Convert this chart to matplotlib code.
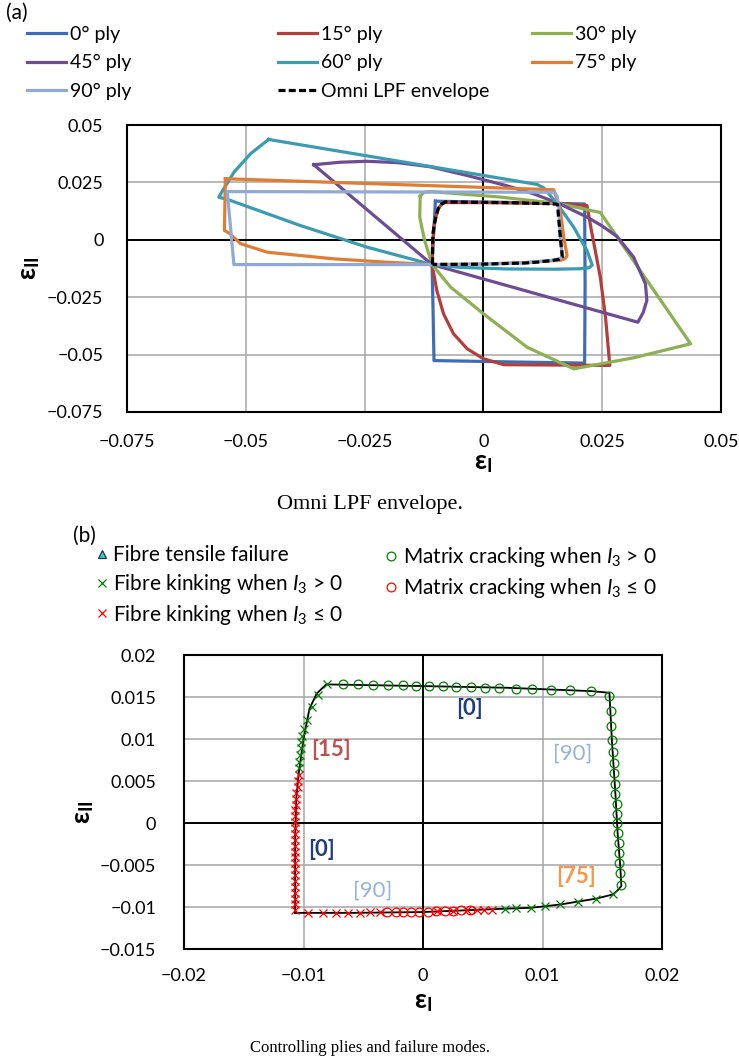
import matplotlib
matplotlib.use('Agg')
import matplotlib.pyplot as plt
from matplotlib.lines import Line2D

plt.rcParams['font.family'] = ['Lato', 'DejaVu Sans']
plt.rcParams['mathtext.fontset'] = 'custom'
plt.rcParams['mathtext.rm'] = 'Lato'
plt.rcParams['mathtext.it'] = 'Lato:italic'
plt.rcParams['mathtext.bf'] = 'Lato:bold'

# ---------------- data: panel (a) ----------------
ply_names = ['0° ply', '15° ply', '30° ply', '45° ply', '60° ply', '75° ply', '90° ply']
ply_colors = ['#3E6DB5', '#B33F3C', '#8CB052', '#6E4C94', '#3A9BB2', '#E07D32', '#8FAAD6']

x0 = [-0.0101, 0.0050, 0.0213, 0.0214, 0.0213, 0.0060, -0.0104, -0.0106, -0.0108, -0.0104, -0.0101]
y0 = [0.0168, 0.0163, 0.0156, -0.0200, -0.0537, -0.0532, -0.0526, -0.0300, -0.0108, 0.0050, 0.0168]

x15 = [-0.0108, -0.0107, -0.0104, -0.0100, -0.0095, -0.0088, -0.0080, 0.0000, 0.0080, 0.0158, 0.0218,
       0.0226, 0.0246, 0.0257, 0.0266, 0.0043, 0.0000, -0.0034, -0.0063, -0.0084, -0.0098, -0.0108]
y15 = [-0.0108, -0.0020, 0.0060, 0.0100, 0.0136, 0.0155, 0.0162, 0.0162, 0.0160, 0.0158, 0.0149,
       0.0055, -0.0163, -0.0337, -0.0547, -0.0544, -0.0518, -0.0475, -0.0409, -0.0322, -0.0221, -0.0108]

x30 = [-0.0133, -0.0125, -0.0110, 0.0036, 0.0158, 0.0246, 0.0436, 0.0316, 0.0190, 0.0092, 0.0000,
       -0.0069, -0.0108, -0.0124, -0.0134, -0.0133]
y30 = [0.0190, 0.0207, 0.0210, 0.0186, 0.0158, 0.0119, -0.0453, -0.0514, -0.0562, -0.0468, -0.0322,
       -0.0206, -0.0108, 0.0000, 0.0098, 0.0190]

x45 = [-0.0357, -0.0300, -0.0245, -0.0180, -0.0112, -0.0034, 0.0050, 0.0106, 0.0158, 0.0218, 0.0250,
       0.0281, 0.0316, 0.0341, 0.0344, 0.0336, 0.0325, -0.0108, -0.0357]
y45 = [0.0327, 0.0338, 0.0342, 0.0336, 0.0318, 0.0280, 0.0235, 0.0200, 0.0159, 0.0099, 0.0060,
       0.0015, -0.0075, -0.0192, -0.0264, -0.0318, -0.0359, -0.0108, 0.0327]

x60 = [-0.0452, -0.0200, 0.0113, 0.0127, 0.0138, 0.0158, 0.0190, 0.0218, 0.0229, 0.0222, 0.0204,
       0.0150, 0.0050, -0.0050, -0.0108, -0.0245, -0.0385, -0.0532, -0.0557, -0.0525, -0.0490, -0.0452]
y60 = [0.0437, 0.0350, 0.0241, 0.0226, 0.0200, 0.0149, 0.0055, -0.0047, -0.0110, -0.0122, -0.0126,
       -0.0128, -0.0127, -0.0120, -0.0108, -0.0032, 0.0062, 0.0171, 0.0186, 0.0294, 0.0375, 0.0437]

x75 = [-0.0543, -0.0200, 0.0148, 0.0162, 0.0169, 0.0176, 0.0172, 0.0163, 0.0080, 0.0000, -0.0060,
       -0.0108, -0.0200, -0.0315, -0.0455, -0.0511, -0.0533, -0.0545, -0.0543]
y75 = [0.0266, 0.0242, 0.0218, 0.0128, 0.0011, -0.0068, -0.0082, -0.0089, -0.0100, -0.0105, -0.0107,
       -0.0108, -0.0098, -0.0083, -0.0054, -0.0017, 0.0026, 0.0041, 0.0266]

x90 = [-0.0539, 0.0150, 0.0155, 0.0158, 0.0161, 0.0164, 0.0166, 0.0163, 0.0150, 0.0080, 0.0000,
       -0.0108, -0.0300, -0.0525, -0.0539]
y90 = [0.0210, 0.0207, 0.0190, 0.0155, 0.0040, -0.0030, -0.0074, -0.0080, -0.0088, -0.0101, -0.0106,
       -0.0108, -0.0108, -0.0108, 0.0210]

ply_x = [x0, x15, x30, x45, x60, x75, x90]
ply_y = [y0, y15, y30, y45, y60, y75, y90]

# Omni LPF envelope (shared by both panels)
env_x = [-0.0107, -0.0107, -0.0106, -0.0104, -0.0100, -0.0095, -0.0089, -0.0081, 0.0000, 0.0070,
         0.0141, 0.0156, 0.0158, 0.0161, 0.0163, 0.0165, 0.0166, 0.0163, 0.0159, 0.0145, 0.0115,
         0.0090, 0.0069, 0.0000, -0.0060, -0.0107]
env_y = [-0.0107, -0.0020, 0.0030, 0.0059, 0.0100, 0.0136, 0.0154, 0.0165, 0.0163, 0.0161,
         0.0157, 0.0155, 0.0100, 0.0035, -0.0015, -0.0050, -0.0075, -0.0080, -0.0085, -0.0090, -0.0097,
         -0.0101, -0.0102, -0.0106, -0.0107, -0.0107]

a_ticks = [-0.075, -0.05, -0.025, 0, 0.025, 0.05]
a_ticklabels = ['\u22120.075', '\u22120.05', '\u22120.025', '0', '0.025', '0.05']

# ---------------- data: panel (b) ----------------
# Matrix cracking when I3 > 0 (green circles)
mc_pos_x = [-0.0067, -0.0054, -0.0042, -0.0029, -0.0017, -0.0006, 0.0005, 0.0017, 0.0028, 0.0040,
            0.0052, 0.0064, 0.0078, 0.0091, 0.0107, 0.0123, 0.0141,
            0.0156, 0.0157, 0.0157, 0.0158, 0.0159, 0.0160, 0.0160, 0.0161, 0.0161, 0.0162, 0.0162,
            0.0162, 0.0163, 0.0164, 0.0164, 0.0164, 0.0165, 0.0166]
mc_pos_y = [0.0165, 0.0165, 0.0164, 0.0164, 0.0164, 0.0163, 0.0163, 0.0163, 0.0162, 0.0162,
            0.0161, 0.0161, 0.0160, 0.0159, 0.0158, 0.0158, 0.0157,
            0.0151, 0.0133, 0.0115, 0.0099, 0.0085, 0.0071, 0.0059, 0.0046, 0.0034, 0.0023, 0.0011,
            0.0000, -0.0012, -0.0024, -0.0036, -0.0048, -0.0060, -0.0074]
# Matrix cracking when I3 <= 0 (red circles)
mc_neg_x = [-0.0030, -0.0023, -0.0017, -0.0010, -0.0003, 0.0004, 0.0011, 0.0018, 0.0025, 0.0032, 0.0039]
mc_neg_y = [-0.0106, -0.0106, -0.0106, -0.0106, -0.0106, -0.0106, -0.0105, -0.0105, -0.0105, -0.0104, -0.0104]
# Fibre kinking when I3 > 0 (green crosses)
fk_pos_x = [-0.0080, -0.0088, -0.0093, -0.0097, -0.0100, -0.0101, -0.0102, -0.0102, -0.0103, -0.0104, -0.0104,
            0.0069, 0.0078, 0.0090, 0.0102, 0.0115, 0.0130, 0.0145, 0.0159]
fk_pos_y = [0.0165, 0.0152, 0.0138, 0.0123, 0.0112, 0.0104, 0.0096, 0.0089, 0.0081, 0.0073, 0.0065,
            -0.0102, -0.0101, -0.0101, -0.0099, -0.0097, -0.0094, -0.0090, -0.0085]
# Fibre kinking when I3 <= 0 (red crosses)
fk_neg_x = [-0.0104, -0.0105, -0.0105, -0.0106, -0.0106, -0.0106, -0.0107, -0.0107, -0.0107, -0.0107,
            -0.0107, -0.0107, -0.0107, -0.0107, -0.0107, -0.0107, -0.0107, -0.0107, -0.0107, -0.0107,
            -0.0107, -0.0107, -0.0107, -0.0107,
            -0.0096, -0.0084, -0.0073, -0.0063, -0.0053, -0.0044, -0.0036, 0.0012, 0.0025, 0.0037,
            0.0045, 0.0051, 0.0058]
fk_neg_y = [0.0057, 0.0050, 0.0043, 0.0036, 0.0029, 0.0022, 0.0015, 0.0008, 0.0001, -0.0006,
            -0.0013, -0.0020, -0.0027, -0.0034, -0.0041, -0.0048, -0.0055, -0.0062, -0.0069, -0.0076,
            -0.0083, -0.0090, -0.0097, -0.0104,
            -0.0107, -0.0107, -0.0107, -0.0107, -0.0107, -0.0106, -0.0106, -0.0105, -0.0105, -0.0104,
            -0.0104, -0.0103, -0.0103]

ply_labels = ['[0]', '[90]', '[15]', '[0]', '[90]', '[75]']
ply_label_x = [0.0039, 0.0125, -0.0077, -0.0085, -0.0042, 0.0128]
ply_label_y = [0.0136, 0.0083, 0.0087, -0.0031, -0.0081, -0.0064]
ply_label_colors = ['#1F3F78', '#95B3D7', '#C0504D', '#1F3F78', '#95B3D7', '#F79646']
ply_label_weights = ['bold', 'normal', 'bold', 'bold', 'normal', 'bold']

b_xticks = [-0.02, -0.01, 0, 0.01, 0.02]
b_xticklabels = ['\u22120.02', '\u22120.01', '0', '0.01', '0.02']
b_yticks = [-0.015, -0.01, -0.005, 0, 0.005, 0.01, 0.015, 0.02]
b_yticklabels = ['\u22120.015', '\u22120.01', '\u22120.005', '0', '0.005', '0.01', '0.015', '0.02']

# ---------------- figure ----------------
W, H = 739, 1062
fig = plt.figure(figsize=(W / 100, H / 100), dpi=100)

def fx(px):
    return px / W

def fy(py):
    return 1 - py / H

GRID = '#A6A6A6'
TICK_FS = 13


def style_axes(ax, xt, xtl, yt, ytl, xlim, ylim, xpad, ypad):
    ax.set_xlim(*xlim)
    ax.set_ylim(*ylim)
    ax.set_xticks(xt)
    ax.set_xticklabels(xtl)
    ax.set_yticks(yt)
    ax.set_yticklabels(ytl)
    ax.tick_params(length=0, labelsize=TICK_FS)
    ax.tick_params(axis='x', pad=xpad)
    ax.tick_params(axis='y', pad=ypad)
    ax.grid(True, color=GRID, lw=1.1, zorder=0)
    ax.set_axisbelow(True)
    ax.axhline(0, color='black', lw=1.4, zorder=1)
    ax.axvline(0, color='black', lw=1.4, zorder=1)
    for s in ax.spines.values():
        s.set_linewidth(1.5)
        s.set_color('black')


# ---- panel (a)
axa = fig.add_axes([fx(127), fy(412), fx(721) - fx(127), fy(125) - fy(412)])
style_axes(axa, a_ticks, a_ticklabels, a_ticks, a_ticklabels, (-0.075, 0.05), (-0.075, 0.05), 16, 17)

handles = {}
for name, col, xs, ys in zip(ply_names, ply_colors, ply_x, ply_y):
    ln, = axa.plot(xs, ys, color=col, lw=2.3, solid_joinstyle='round', zorder=3)
    handles[name] = ln
env_ln, = axa.plot(env_x, env_y, color='black', lw=2.3, dashes=(2.2, 1.0), zorder=4)
handles['Omni LPF envelope'] = env_ln

fig.text(fx(6), fy(13), '(a)', fontsize=15, va='center', ha='left')
fig.text(fx(483), fy(463), r'ε$_{\mathbf{I}}$', fontsize=19, fontweight='bold', ha='center', va='center')
fig.text(fx(30), fy(268), r'ε$_{\mathbf{II}}$', fontsize=19, fontweight='bold', ha='center', va='center', rotation=90)
fig.text(fx(370), fy(505), 'Omni LPF envelope.', fontsize=16, family='Liberation Serif', ha='center', va='center')

leg_cols = [['0° ply', '45° ply', '90° ply'],
            ['15° ply', '60° ply', 'Omni LPF envelope'],
            ['30° ply', '75° ply']]
leg_x = [27, 278, 532]
for names, lx in zip(leg_cols, leg_x):
    fig.legend(handles=[handles[n] for n in names], labels=names, loc='upper left',
               bbox_to_anchor=(fx(lx), fy(26)), frameon=False, fontsize=14,
               handlelength=2.0, handletextpad=0.2, labelspacing=0.58,
               borderpad=0, borderaxespad=0)

# ---- panel (b)
axb = fig.add_axes([fx(184), fy(949), fx(662) - fx(184), fy(655) - fy(949)])
style_axes(axb, b_xticks, b_xticklabels, b_yticks, b_yticklabels, (-0.02, 0.02), (-0.015, 0.02), 14, 20)

axb.plot(env_x, env_y, color='black', lw=1.3, zorder=3)
MS = 6.3
h_mcp, = axb.plot(mc_pos_x, mc_pos_y, ls='none', marker='o', ms=MS, mfc='none', mec='#008000', mew=0.9, zorder=4)
h_mcn, = axb.plot(mc_neg_x, mc_neg_y, ls='none', marker='o', ms=MS, mfc='none', mec='#FF0000', mew=0.9, zorder=4)
h_fkp, = axb.plot(fk_pos_x, fk_pos_y, ls='none', marker='x', ms=MS, mec='#008000', mew=0.9, zorder=5)
h_fkn, = axb.plot(fk_neg_x, fk_neg_y, ls='none', marker='x', ms=MS, mec='#FF0000', mew=0.9, zorder=5)
h_ft = Line2D([], [], ls='none', marker='^', ms=6, mfc='#33CCCC', mec='#1A3A4A', mew=0.9)

for t, x, y, c, w in zip(ply_labels, ply_label_x, ply_label_y, ply_label_colors, ply_label_weights):
    axb.text(x, y, t, color=c, fontsize=16, fontweight=w, ha='center', va='center', zorder=6)

fig.text(fx(73), fy(536), '(b)', fontsize=15, va='center', ha='left')
fig.text(fx(423), fy(1002), r'ε$_{\mathbf{I}}$', fontsize=19, fontweight='bold', ha='center', va='center')
fig.text(fx(84), fy(812), r'ε$_{\mathbf{II}}$', fontsize=19, fontweight='bold', ha='center', va='center', rotation=90)
fig.text(fx(370), fy(1048), 'Controlling plies and failure modes.', fontsize=12, family='Liberation Serif',
         ha='center', va='center')

fig.legend(handles=[h_ft, h_fkp, h_fkn],
           labels=['Fibre tensile failure', r'Fibre kinking when $I_{\mathit{3}}$ > 0',
                   r'Fibre kinking when $I_{\mathit{3}}$ ≤ 0'],
           loc='upper left', bbox_to_anchor=(fx(95.5), fy(545)), frameon=False, fontsize=15,
           handlelength=0.6, handletextpad=0.25, labelspacing=0.33, borderpad=0, borderaxespad=0)
fig.legend(handles=[h_mcp, h_mcn],
           labels=[r'Matrix cracking when $I_{\mathit{3}}$ > 0', r'Matrix cracking when $I_{\mathit{3}}$ ≤ 0'],
           loc='upper left', bbox_to_anchor=(fx(385), fy(545)), frameon=False, fontsize=15,
           handlelength=0.6, handletextpad=0.25, labelspacing=0.33, borderpad=0, borderaxespad=0)

fig.savefig('out.png', dpi=100)
